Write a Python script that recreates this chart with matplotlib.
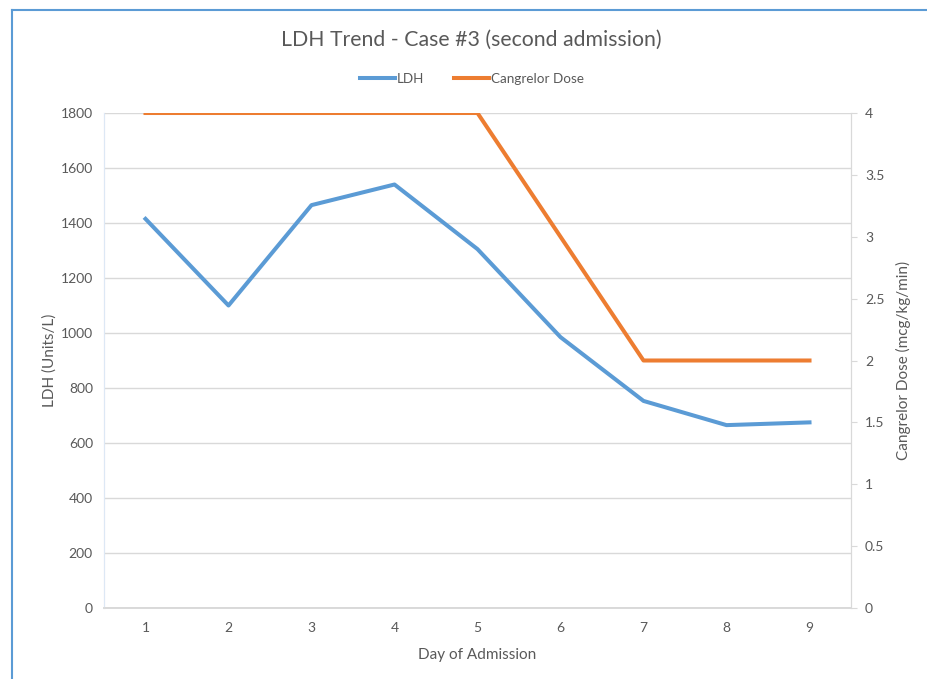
import matplotlib
matplotlib.use("Agg")
import matplotlib.pyplot as plt
from matplotlib.lines import Line2D

days = [1, 2, 3, 4, 5, 6, 7, 8, 9]
ldh = [1415, 1100, 1465, 1540, 1305, 985, 753, 665, 675]
dose = [4, 4, 4, 4, 4, 3, 2, 2, 2]

plt.rcParams['font.family'] = ['Lato', 'DejaVu Sans']
txt = '#595959'
grid = '#d9d9d9'

fig = plt.figure(figsize=(9.27, 6.79), dpi=100)
W, H = 927, 679
ax = fig.add_axes([104 / W, 1 - 608 / H, (851 - 104) / W, (608 - 113) / H])
ax2 = ax.twinx()

l1, = ax.plot(days, ldh, color='#5b9bd5', lw=2.9, solid_joinstyle='round', label='LDH')
l2, = ax2.plot(days, dose, color='#ed7d31', lw=2.9, solid_joinstyle='round', label='Cangrelor Dose')

ax.set_xlim(0.5, 9.5)
ax.set_ylim(0, 1800)
ax.set_yticks(range(0, 1801, 200))
ax.set_xticks(days)
ax2.set_ylim(0, 4)
ax2.set_yticks([0, 0.5, 1, 1.5, 2, 2.5, 3, 3.5, 4])
ax2.set_yticklabels(['0', '0.5', '1', '1.5', '2', '2.5', '3', '3.5', '4'])

ax.grid(axis='y', color=grid, lw=1)
ax.set_axisbelow(True)
ax.tick_params(axis='both', length=0, labelsize=10, colors=txt, pad=8)
ax.tick_params(axis='x', pad=10)
ax2.tick_params(axis='y', length=4, color=grid, labelsize=10, labelcolor=txt, pad=6)

for a in (ax, ax2):
    a.spines['top'].set_visible(False)
    a.spines['left'].set_color('#dde8f5')
    a.spines['bottom'].set_color(grid)
    a.spines['right'].set_color(grid)
    a.spines['bottom'].set_linewidth(1.2)

ax.set_xlabel('Day of Admission', fontsize=11, color=txt, labelpad=10)
ax.set_ylabel('LDH (Units/L)', fontsize=11, color=txt, labelpad=3)
ax2.set_ylabel('Cangrelor Dose (mcg/kg/min)', fontsize=11, color=txt, labelpad=8)

fig.text(471 / W, 1 - 40 / H, 'LDH Trend - Case #3 (second admission)', ha='center', va='center',
         fontsize=15.3, color=txt)
fig.legend(handles=[l1, l2], loc='center', bbox_to_anchor=(472 / W, 1 - 79 / H), ncol=2,
           frameon=False, fontsize=9.7, labelcolor=txt, handlelength=2.6, handletextpad=0.15,
           columnspacing=2.2)

# screenshot frame
fig.add_artist(Line2D([12 / W, 12 / W], [0, 1 - 10 / H], transform=fig.transFigure, color='#5b9bd5', lw=1.5))
fig.add_artist(Line2D([12 / W, 1], [1 - 10 / H, 1 - 10 / H], transform=fig.transFigure, color='#5b9bd5', lw=1.5))

fig.savefig('out.png', dpi=100)
